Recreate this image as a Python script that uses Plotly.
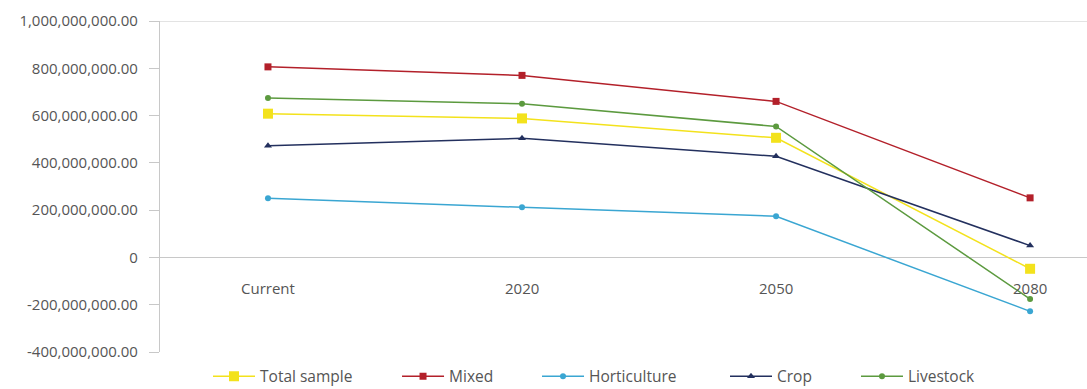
import plotly.graph_objects as go

periods = ["Current", "2020", "2050", "2080"]

total_sample = [608e6, 588e6, 506e6, -48e6]
mixed = [806e6, 770e6, 660e6, 252e6]
horticulture = [250e6, 212e6, 174e6, -228e6]
crop = [472e6, 504e6, 428e6, 50e6]
livestock = [674e6, 650e6, 554e6, -176e6]

y_ticks = [1e9, 8e8, 6e8, 4e8, 2e8, 0, -2e8, -4e8]
y_tick_labels = ["1,000,000,000.00", "800,000,000.00", "600,000,000.00",
                 "400,000,000.00", "200,000,000.00", "0",
                 "-200,000,000.00", "-400,000,000.00"]

# name, values, colour, marker symbol, marker size, legend id, legend x
series = [
    ("Total sample", total_sample, "#f3e21c", "square", 10, "legend", 0.0518),
    ("Mixed", mixed, "#b3202a", "square", 7, "legend2", 0.2557),
    ("Horticulture", horticulture, "#3aa6d2", "circle", 6, "legend3", 0.4067),
    ("Crop", crop, "#23305e", "triangle-up", 7, "legend4", 0.6095),
    ("Livestock", livestock, "#5c9a3f", "circle", 6, "legend5", 0.7508),
]

text_color = "#555555"
axis_color = "#c8c8c8"

fig = go.Figure()
legends = {}
for name, vals, color, symbol, size, leg, lx in series:
    fig.add_trace(go.Scatter(
        x=periods, y=vals, name=name, mode="lines+markers",
        line=dict(color=color, width=1.5),
        marker=dict(color=color, symbol=symbol, size=size),
        legend=leg,
    ))
    legends[leg] = dict(
        orientation="h", x=lx, xanchor="left",
        y=0.032, yref="container", yanchor="middle",
        font=dict(family="Open Sans", size=15.5, color=text_color),
        itemwidth=42, bgcolor="rgba(0,0,0,0)",
    )

# category labels sit just below the zero line
for i, p in enumerate(periods):
    fig.add_annotation(x=i, y=0, xref="x", yref="y", text=p, showarrow=False,
                       yshift=-31, font=dict(family="Open Sans", size=15,
                                             color=text_color))

# top border line
fig.add_shape(type="line", xref="paper", yref="y", x0=0, x1=1,
              y0=1e9, y1=1e9, line=dict(color=axis_color, width=1.2))

fig.update_layout(
    width=1087, height=389,
    margin=dict(l=160, r=0, t=21, b=37, autoexpand=False),
    paper_bgcolor="white", plot_bgcolor="white",
    font=dict(family="Open Sans", size=15, color=text_color),
    showlegend=True,
    **legends,
)
fig.update_xaxes(
    type="category", range=[-0.425, 3.224], showticklabels=False,
    showgrid=False, zeroline=False, showline=False, ticks="",
)
fig.update_yaxes(
    range=[-4e8, 1e9], tickvals=y_ticks, ticktext=y_tick_labels,
    showgrid=False, zeroline=True, zerolinecolor=axis_color, zerolinewidth=1.2,
    showline=True, linecolor=axis_color, linewidth=1.2,
    ticks="outside", ticklen=10, tickcolor=axis_color, ticklabelstandoff=8,
    tickfont=dict(family="Open Sans", size=15, color=text_color),
)

fig.write_html("out.html")
